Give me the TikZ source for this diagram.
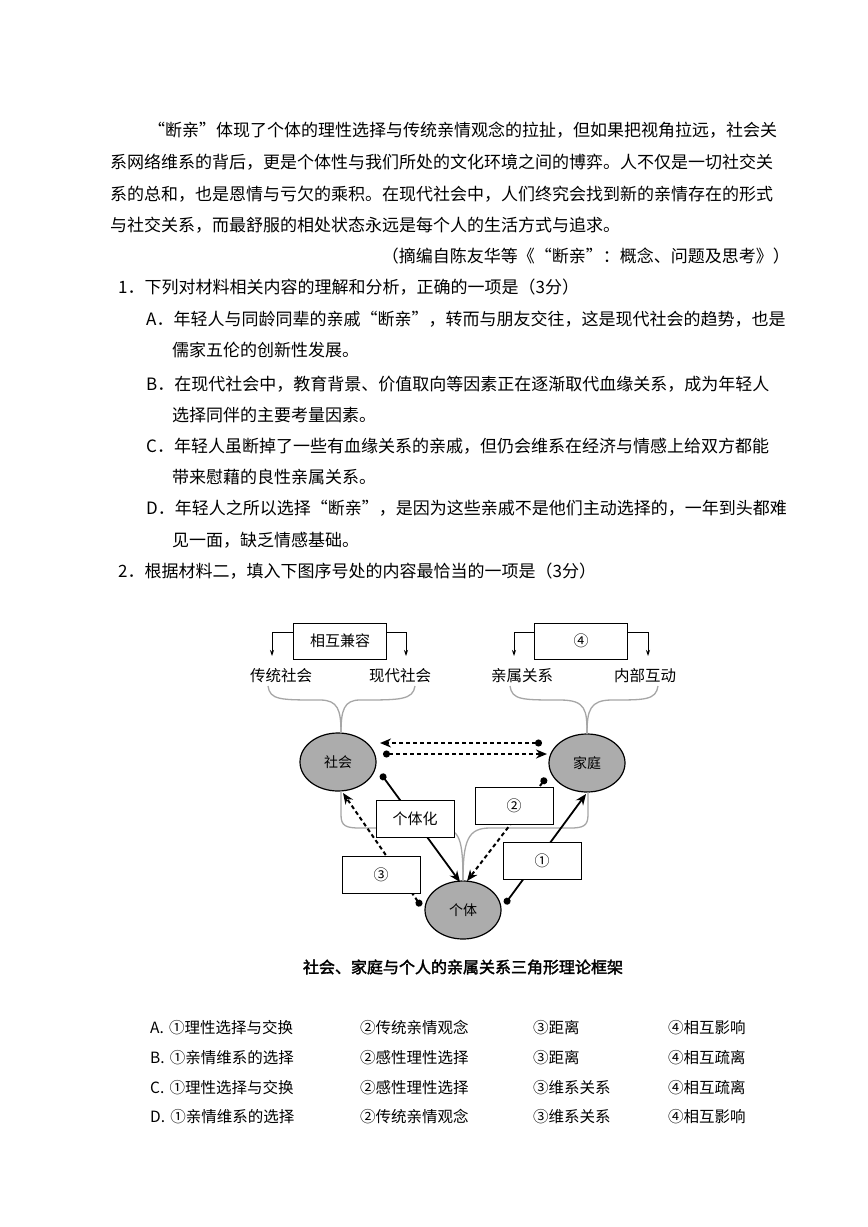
\documentclass[tikz,border=0pt]{standalone}
\usepackage{fontspec}
\setmainfont{Liberation Serif}
\newfontfamily\cjk{Noto Sans CJK SC}
\newfontfamily\cjkb{Noto Sans CJK SC}[FakeBold=2]
\usetikzlibrary{arrows.meta}
\begin{document}
\begin{tikzpicture}[x=1pt,y=-1pt,
  txt/.style={anchor=west,inner sep=0,font=\fontsize{17}{17}\cjk},
  opt/.style={anchor=west,inner sep=0,font=\fontsize{15.5}{16}\cjk},
  lab/.style={inner sep=0,font=\fontsize{15.5}{16}\cjk},
  ell/.style={ellipse,draw=black,line width=1.2pt,fill=gray!65,minimum width=76pt,minimum height=58pt,font=\fontsize{14}{14}\cjk},
  bx/.style={draw,line width=0.9pt,fill=white,minimum width=78pt,minimum height=37pt,font=\fontsize{15}{15}\cjk},
  tbx/.style={draw,line width=0.9pt,fill=white,minimum width=93pt,minimum height=36pt,font=\fontsize{15}{15}\cjk},
  gr/.style={gray!70,line width=1.3pt},
  solid arr/.style={line width=1.8pt,{Circle[length=7pt]}-{Stealth[length=11pt,width=9pt]}},
  dot arr/.style={line width=2pt,dash pattern=on 4pt off 3pt,{Circle[length=7pt]}-{Stealth[length=11pt,width=9pt]}},
  sarr/.style={line width=0.9pt,-{Stealth[length=6pt,width=4pt]}}]
\useasboundingbox (0,0) rectangle (868,1227);
\fill[white] (0,0) rectangle (868,1227);
\usetikzlibrary{shapes.geometric}
% text
\node[txt] at (148,130) {“断亲”体现了个体的理性选择与传统亲情观念的拉扯，但如果把视角拉远，社会关};
\node[txt] at (110,162) {系网络维系的背后，更是个体性与我们所处的文化环境之间的博弈。人不仅是一切社交关};
\node[txt] at (110,194) {系的总和，也是恩情与亏欠的乘积。在现代社会中，人们终究会找到新的亲情存在的形式};
\node[txt] at (110,225) {与社交关系，而最舒服的相处状态永远是每个人的生活方式与追求。};
\node[txt,anchor=east] at (790,256) {（摘编自陈友华等《“断亲”：概念、问题及思考》）};
\node[txt] at (118,287) {1．下列对材料相关内容的理解和分析，正确的一项是（3分）};
\node[txt] at (146,319) {A．年轻人与同龄同辈的亲戚“断亲”，转而与朋友交往，这是现代社会的趋势，也是};
\node[txt] at (172,350) {儒家五伦的创新性发展。};
\node[txt] at (146,384) {B．在现代社会中，教育背景、价值取向等因素正在逐渐取代血缘关系，成为年轻人};
\node[txt] at (172,415) {选择同伴的主要考量因素。};
\node[txt] at (146,446) {C．年轻人虽断掉了一些有血缘关系的亲戚，但仍会维系在经济与情感上给双方都能};
\node[txt] at (172,477) {带来慰藉的良性亲属关系。};
\node[txt] at (146,508) {D．年轻人之所以选择“断亲”，是因为这些亲戚不是他们主动选择的，一年到头都难};
\node[txt] at (172,540) {见一面，缺乏情感基础。};
\node[txt] at (118,571) {2．根据材料二，填入下图序号处的内容最恰当的一项是（3分）};
% diagram
\node[tbx] (t1) at (340,641) {相互兼容};
\node[tbx] (t4) at (581,641) {④};
\node[lab] (l1) at (281,676) {传统社会};
\node[lab] (l2) at (400,676) {现代社会};
\node[lab] (l3) at (522,676) {亲属关系};
\node[lab] (l4) at (645,676) {内部互动};
\draw[sarr] (t1.west|-0,632) -| (272,656);
\draw[sarr] (t1.east|-0,632) -| (406,656);
\draw[sarr] (t4.west|-0,632) -| (514,656);
\draw[sarr] (t4.east|-0,632) -| (648,656);
\node[ell] (sh) at (338,762) {社会};
\node[ell] (jt) at (587,763) {家庭};
\node[ell] (gt) at (463,910) {个体};
\draw[gr] (268,686) .. controls (270,700) and (280,700) .. (320,700) .. controls (338,700) and (341,710) .. (341,733);
\draw[gr] (415,686) .. controls (413,700) and (400,700) .. (360,700) .. controls (344,700) and (341,710) .. (341,733);
\draw[gr] (510,686) .. controls (512,700) and (522,700) .. (560,700) .. controls (586,700) and (587,710) .. (587,734);
\draw[gr] (658,686) .. controls (656,700) and (645,700) .. (612,700) .. controls (590,700) and (587,710) .. (587,734);
\draw[gr] (341,791) -- (341,815) .. controls (341,826) and (346,828) .. (360,828) -- (440,828) .. controls (460,828) and (463,840) .. (463,881);
\draw[gr] (588,792) -- (588,815) .. controls (588,826) and (583,828) .. (570,828) -- (490,828) .. controls (468,828) and (463,840) .. (463,881);
\draw[dot arr] (542,743) -- (380,743);
\draw[dot arr] (383,754) -- (547,754);
\draw[solid arr] (381,774) -- (460,882);
\draw[solid arr] (505,904) -- (586,794);
\draw[dot arr] (546,778) -- (467,881);
\draw[dot arr] (421,906) -- (343,793);
\node[bx] (gth) at (415,819) {个体化};
\node[bx] (b2) at (514,806) {②};
\node[bx] (b3) at (381,875) {③};
\node[bx] (b1) at (542,861) {①};
\node[inner sep=0,font=\fontsize{16}{16}\cjkb] (cap) at (463,967) {社会、家庭与个人的亲属关系三角形理论框架};
% options
\foreach \y/\l/\a/\b/\c/\d in {1028/A/理性选择与交换/传统亲情观念/距离/相互影响,
 1058/B/亲情维系的选择/感性理性选择/距离/相互疏离,
 1088/C/理性选择与交换/感性理性选择/维系关系/相互疏离,
 1117/D/亲情维系的选择/传统亲情观念/维系关系/相互影响}{
 \node[opt] at (150,\y) {\l.\,\,①\a};
 \node[opt] at (360,\y) {②\b};
 \node[opt] at (533,\y) {③\c};
 \node[opt] at (668,\y) {④\d};
}
\end{tikzpicture}
\end{document}
